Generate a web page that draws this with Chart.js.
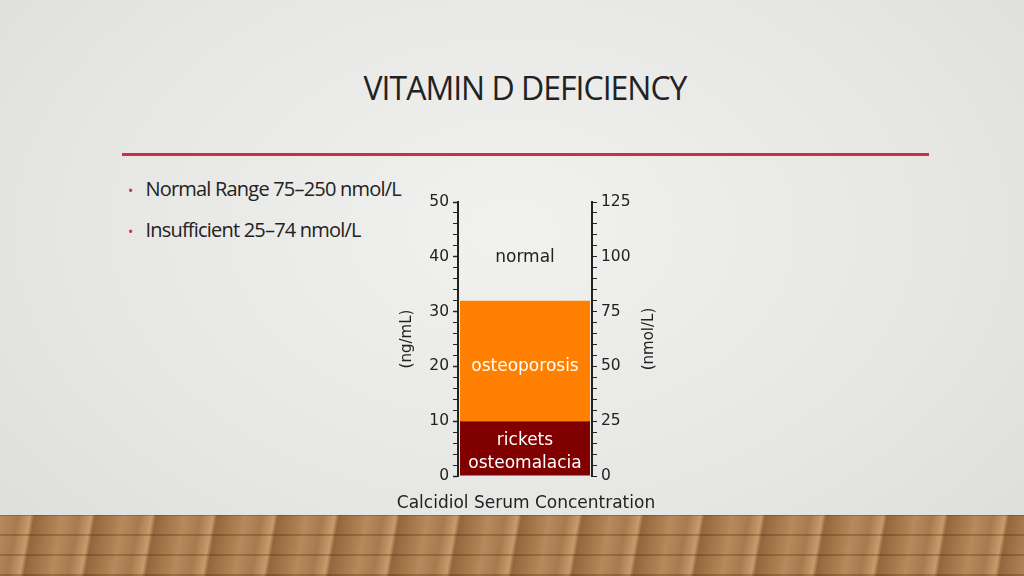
<!DOCTYPE html>
<html><head><meta charset="utf-8">
<script src="https://cdn.jsdelivr.net/npm/chart.js@4"></script>
<style>
html,body{margin:0;padding:0;width:1024px;height:576px;overflow:hidden;}
body{background:radial-gradient(ellipse at 50% 40%,#f1f1ef 0%,#e6e6e4 60%,#dcdcda 100%);position:relative;font-family:"Open Sans",Lato,sans-serif;}
#floor{position:absolute;left:0;top:515px;width:1024px;height:61px;
background:repeating-linear-gradient(100deg,#b98a5c 0px,#a87a4e 18px,#c99a6a 30px,#94663c 34px,#b58656 60px);}
#floor:after{content:"";position:absolute;left:0;top:0;right:0;bottom:0;background:repeating-linear-gradient(0deg,rgba(60,30,10,.25) 0 2px,transparent 2px 20px);}
#title{position:absolute;left:0;width:1050px;top:66px;text-align:center;font-size:32px;color:#222;letter-spacing:-1px;}
#rule{position:absolute;left:122px;top:153px;width:807px;height:3px;background:#c8304a;}
.b{position:absolute;left:128px;font-size:20px;color:#222;letter-spacing:-0.8px;}
.b span{color:#c8304a;font-size:14px;margin-right:13px;}
#c{position:absolute;left:340px;top:180px;}
</style></head><body>
<div id="floor"></div>
<div id="title">VITAMIN D DEFICIENCY</div>
<div id="rule"></div>
<div class="b" style="top:175px"><span>•</span>Normal Range 75–250 nmol/L</div>
<div class="b" style="top:216px"><span>•</span>Insufficient 25–74 nmol/L</div>
<canvas id="c" width="360" height="340"></canvas>
<script>
const categories=[''];
const segmentNames=['rickets\nosteomalacia','osteoporosis'];
const segmentRanges=[[0,10],[10,32]];
const segmentColors=['#800000','#ff8000'];
const leftTicks=[0,10,20,30,40,50];
const rightTicks=[0,25,50,75,100,125];
const normalLabel='normal';
const xTitle='Calcidiol Serum Concentration';

const F='"DejaVu Sans",sans-serif';
const labels={
 id:'labels',
 afterDraw(ch){
  const c=ch.ctx,y=ch.scales.y,a=ch.chartArea,cx=(a.left+a.right)/2;
  c.save();c.font='17px '+F;c.textAlign='center';c.textBaseline='middle';
  c.fillStyle='#222';c.fillText(normalLabel,cx,y.getPixelForValue(40)+1);
  c.fillStyle='#fff';
  c.fillText(segmentNames[1],cx,y.getPixelForValue(20));
  const ls=segmentNames[0].split('\n');
  c.fillText(ls[0],cx,y.getPixelForValue(6.4));
  c.fillText(ls[1],cx,y.getPixelForValue(2.2));
  c.fillStyle='#222';c.font='15px '+F;
  c.save();c.translate(a.left-51,(a.top+a.bottom)/2);c.rotate(-Math.PI/2);c.fillText('(ng/mL)',0,0);c.restore();
  c.save();c.translate(a.right+57,(a.top+a.bottom)/2);c.rotate(-Math.PI/2);c.fillText('(nmol/L)',0,0);c.restore();
  c.font='17px '+F;c.fillText(xTitle,cx+1,a.bottom+28);
  c.restore();
 }};
new Chart(document.getElementById('c'),{
 type:'bar',
 data:{labels:categories,datasets:segmentRanges.map((r,i)=>({data:[r],backgroundColor:segmentColors[i],borderWidth:0,barPercentage:1,categoryPercentage:0.97,yAxisID:'y'}))},
 options:{responsive:false,animation:false,
  layout:{padding:{top:22,left:0,right:0,bottom:0}},
  plugins:{legend:{display:false},tooltip:{enabled:false}},
  scales:{
   x:{stacked:true,grid:{display:false},ticks:{display:false},border:{display:false},afterFit(s){s.height=44;}},
   y:{min:0,max:50,position:'left',stacked:false,
      ticks:{stepSize:2,autoSkip:false,color:'#222',font:{family:F,size:15.5},padding:4,callback:v=>leftTicks.includes(v)?String(v):''},
      grid:{drawOnChartArea:false,tickLength:5,color:'#222',tickWidth:c=>leftTicks.includes(c.tick.value)?1.5:1},
      border:{color:'#222',width:2},afterFit(s){s.width=118;}},
   y2:{min:0,max:125,position:'right',
      ticks:{stepSize:5,autoSkip:false,color:'#222',font:{family:F,size:15.5},padding:4,callback:v=>rightTicks.includes(v)?String(v):''},
      grid:{drawOnChartArea:false,tickLength:5,color:'#222'},
      border:{color:'#222',width:2},afterFit(s){s.width=108;}}
  }},
 plugins:[labels]
});
</script></body></html>
